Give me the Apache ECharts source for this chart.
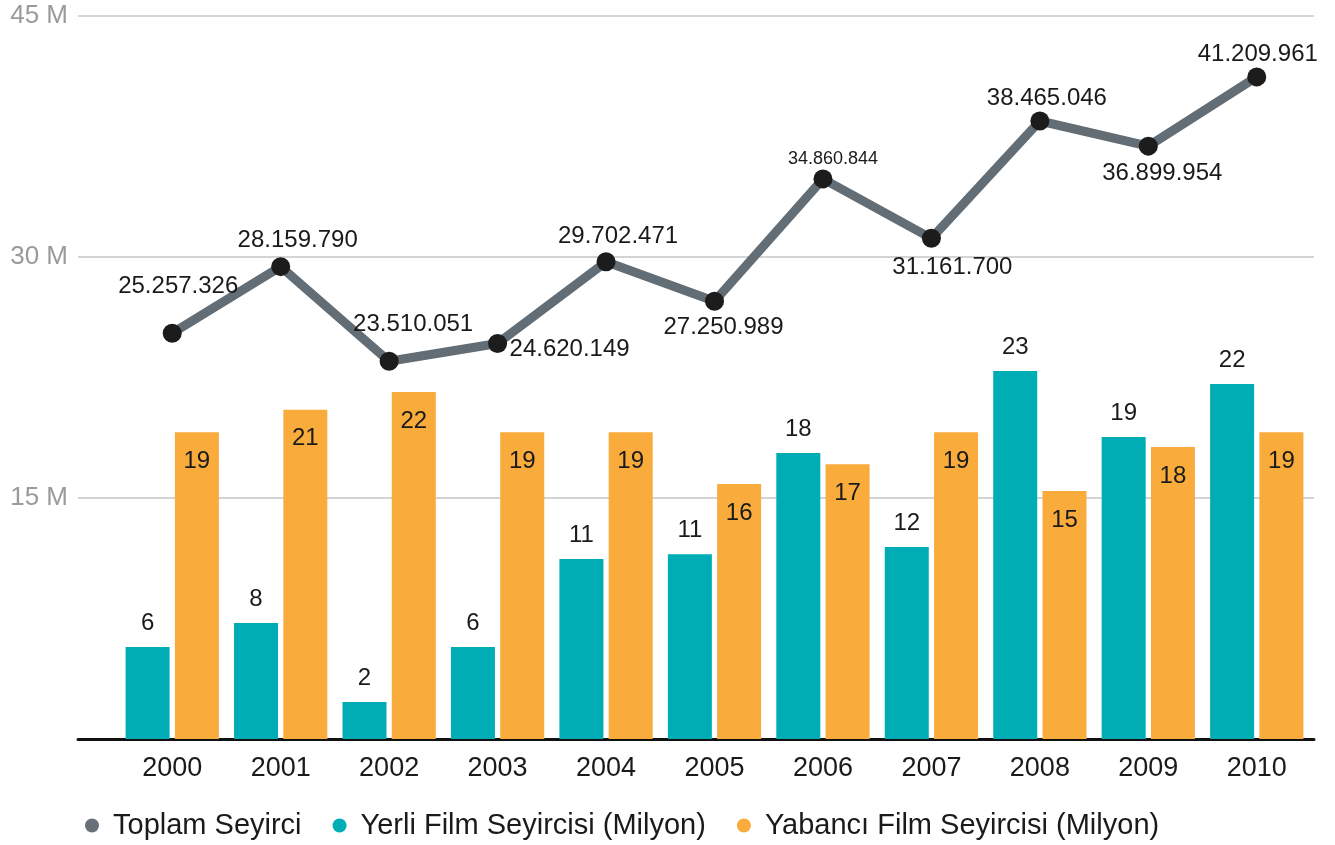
<!DOCTYPE html>
<html>
<head>
<meta charset="utf-8">
<title>Sinema seyirci sayilari 2000-2010</title>
<script src="https://cdn.jsdelivr.net/npm/echarts@6/dist/echarts.min.js"></script>
<style>
  html, body { margin: 0; padding: 0; background: #fff; }
  #chart { width: 1335px; height: 845px; }
</style>
</head>
<body>
<div id="chart"></div>
<script>
// yillar
var years = ['2000', '2001', '2002', '2003', '2004', '2005', '2006', '2007', '2008', '2009', '2010'];
// toplam seyirci, grafikteki nokta yerleri (2001 noktasi etiketinden yuksek cizilmis)
var toplam = [25257326, 29400000, 23510051, 24620149, 29702471, 27250989, 34860844, 31161700, 38465046, 36899954, 41209961];
// toplam seyirci etiketleri
var toplamEtiket = ['25.257.326', '28.159.790', '23.510.051', '24.620.149', '29.702.471', '27.250.989',
    '34.860.844', '31.161.700', '38.465.046', '36.899.954', '41.209.961'];
// yerli / yabanci film seyircisi, milyon (cubuk boylarindan okundu)
var yerli = [5.72, 7.22, 2.30, 5.72, 11.2, 11.5, 17.8, 11.95, 22.9, 18.8, 22.1];
var yabanci = [19.1, 20.5, 21.6, 19.1, 19.1, 15.87, 17.1, 19.1, 15.43, 18.17, 19.1];
// etiketlerde gorunen yuvarlanmis degerler
var yerliEtiket = [6, 8, 2, 6, 11, 11, 18, 12, 23, 19, 22];
var yabanciEtiket = [19, 21, 22, 19, 19, 16, 17, 19, 15, 18, 19];
// tick etiketleri
var yTicks = ['', '15 M', '30 M', '45 M'];

var FONT = '"Liberation Sans", Arial, sans-serif';

var legendNames = ['Toplam Seyirci', 'Yerli Film Seyircisi (Milyon)', 'Yabancı Film Seyircisi (Milyon)'];

// cizgi etiketlerinin nokta merkezine gore kaymasi
var lineLabelOffset = [
    [6, -47], [17, -26], [24, -37], [72, 6], [12, -25], [9, 26],
    [10, -20], [21, 29], [7, -23], [14, 27], [1, -23]
];

var lineData = [];
toplam.forEach(function (v, i) {
    lineData.push({
        value: v,
        label: {
            offset: lineLabelOffset[i],
            fontSize: i === 6 ? 18 : 24
        }
    });
});

var yerliData = [];
var yabanciData = [];
years.forEach(function (y, i) {
    yerliData.push(yerli[i] * 1e6);
    yabanciData.push(yabanci[i] * 1e6);
});

var chart = echarts.init(document.getElementById('chart'));

var option = {
    backgroundColor: '#ffffff',
    animation: false,
    textStyle: { fontFamily: FONT },
    legend: {
        data: [
            { name: legendNames[0], itemStyle: { color: '#68717a' } },
            { name: legendNames[1] },
            { name: legendNames[2] }
        ],
        left: 80,
        top: 806,
        icon: 'circle',
        itemWidth: 32,
        itemHeight: 14,
        itemGap: 31,
        textStyle: { fontFamily: FONT, fontSize: 29, color: '#1a1a1a' }
    },
    grid: [
        { left: 78, right: 21, top: 16, bottom: 106 },
        { left: 118, right: 24, top: 16, bottom: 106 }
    ],
    xAxis: [
        {
            gridIndex: 0,
            type: 'value',
            min: 0,
            max: 1,
            axisLine: { show: true, lineStyle: { color: '#111', width: 3 } },
            axisTick: { show: false },
            axisLabel: { show: false },
            splitLine: { show: false }
        },
        {
            gridIndex: 1,
            type: 'category',
            data: years,
            axisLine: { show: false },
            axisTick: { show: false },
            axisLabel: {
                margin: 16,
                fontFamily: FONT,
                fontSize: 27,
                color: '#1a1a1a'
            }
        }
    ],
    yAxis: [
        {
            gridIndex: 0,
            type: 'value',
            min: 0,
            max: 45e6,
            interval: 15e6,
            axisLine: { show: false },
            axisTick: { show: false },
            axisLabel: {
                margin: 10,
                fontFamily: FONT,
                fontSize: 26,
                color: '#9a9a9a',
                formatter: function (v) { return yTicks[Math.round(v / 15e6)]; }
            },
            splitLine: { show: true, lineStyle: { color: '#d4d4d4', width: 2 } }
        },
        {
            gridIndex: 1,
            type: 'value',
            min: 0,
            max: 45e6,
            show: false
        }
    ],
    series: [
        {
            name: legendNames[0],
            type: 'line',
            xAxisIndex: 1,
            yAxisIndex: 1,
            data: lineData,
            z: 5,
            color: '#636d75',
            lineStyle: { color: '#636d75', width: 9 },
            symbol: 'circle',
            symbolSize: 19,
            itemStyle: { color: '#1c1c1c' },
            label: {
                show: true,
                position: 'inside',
                fontFamily: FONT,
                color: '#1a1a1a',
                formatter: function (p) { return toplamEtiket[p.dataIndex]; }
            }
        },
        {
            name: legendNames[1],
            type: 'bar',
            xAxisIndex: 1,
            yAxisIndex: 1,
            data: yerliData,
            barWidth: 44,
            barGap: '12%',
            color: '#00adb5',
            itemStyle: { color: '#00adb5' },
            label: {
                show: true,
                position: 'top',
                distance: 12,
                fontFamily: FONT,
                fontSize: 24,
                color: '#1a1a1a',
                formatter: function (p) { return yerliEtiket[p.dataIndex]; }
            }
        },
        {
            name: legendNames[2],
            type: 'bar',
            xAxisIndex: 1,
            yAxisIndex: 1,
            data: yabanciData,
            barWidth: 44,
            color: '#f9ab3b',
            itemStyle: { color: '#f9ab3b' },
            label: {
                show: true,
                position: 'insideTop',
                distance: 17,
                fontFamily: FONT,
                fontSize: 24,
                color: '#1a1a1a',
                formatter: function (p) { return yabanciEtiket[p.dataIndex]; }
            }
        }
    ]
};

chart.setOption(option);
</script>
</body>
</html>
